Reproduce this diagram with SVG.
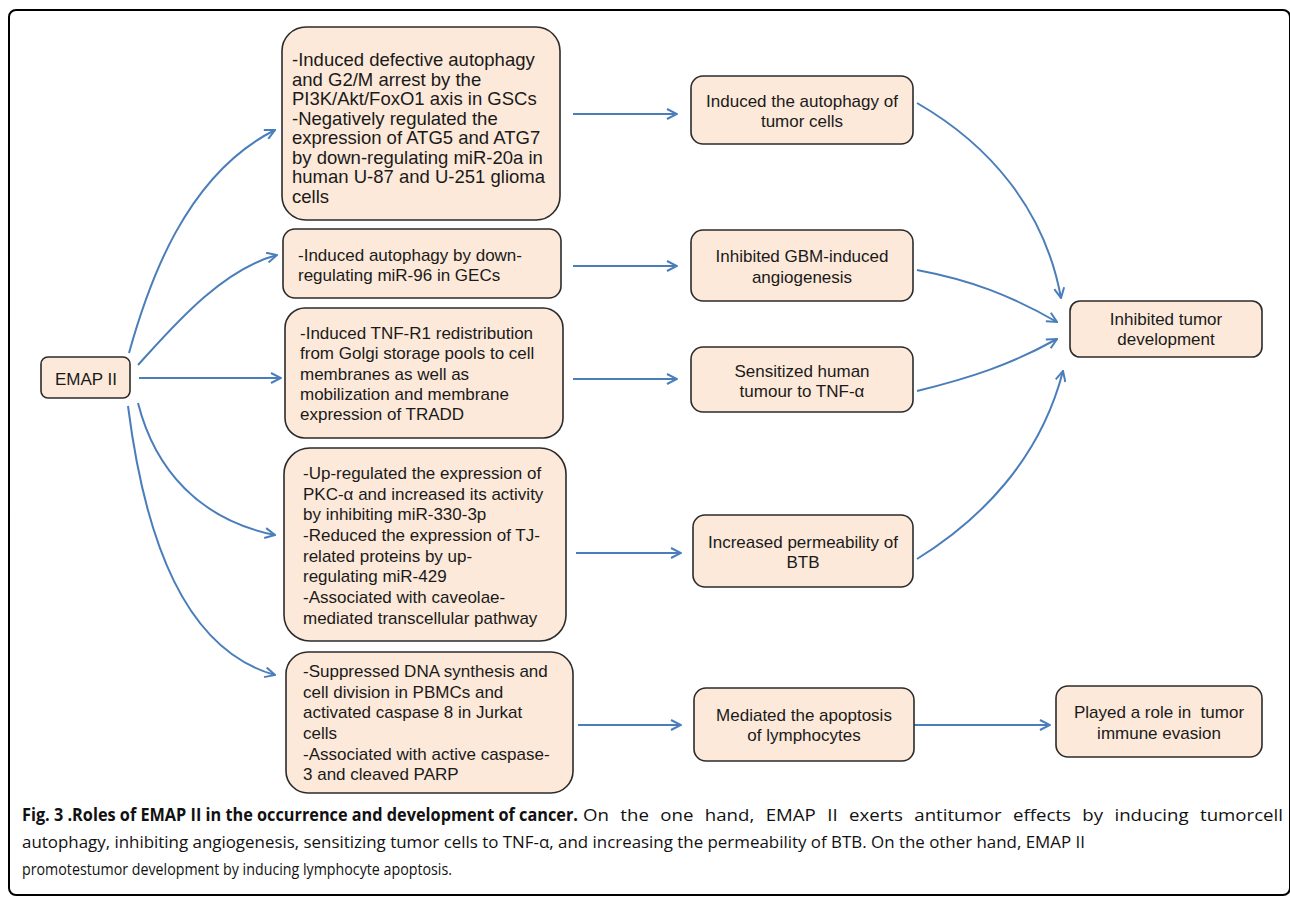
<svg xmlns="http://www.w3.org/2000/svg" width="1290" height="900" viewBox="0 0 1290 900">
<style>
.box{fill:#fde9d9;stroke:#2b2b2b;stroke-width:1.6}
.t{font-family:"Liberation Sans",Arial,sans-serif;font-size:17px;fill:#1a1a1a}
.ta{font-size:18.5px}
.c{text-anchor:middle}
.conn path{fill:none;stroke:#4a7ebb;stroke-width:2;marker-end:url(#ah)}
.cap{font-family:"Open Sans","Noto Sans",sans-serif;font-size:17px;fill:#111}
.b{font-weight:bold}
</style>
<defs>
<marker id="ah" viewBox="0 0 12 12" refX="11" refY="6" markerWidth="12" markerHeight="12" markerUnits="userSpaceOnUse" orient="auto">
<path d="M1,1 L11,6 L1,11" fill="none" stroke="#4a7ebb" stroke-width="2"/>
</marker>
</defs>
<rect x="9" y="10" width="1281" height="885" rx="7" fill="#fff" stroke="#000" stroke-width="2"/>

<g class="conn" id="connectors">
<path d="M129,353 C148,285 185,175 275,130"/>
<path d="M138,365 C170,330 220,270 277,255"/>
<path d="M139,378 L281,378"/>
<path d="M138,403 C155,470 200,520 275,535"/>
<path d="M128,406 C145,540 185,650 275,675"/>
<path d="M573,114 L677,114"/>
<path d="M573,266 L677,266"/>
<path d="M573,379 L677,379"/>
<path d="M576,553 L681,553"/>
<path d="M578,725 L681,725"/>
<path d="M914,725 L1050,725"/>
<path d="M917,103 C990,145 1045,210 1061,298"/>
<path d="M917,270 C970,280 1010,295 1057,322"/>
<path d="M917,391 C970,378 1010,365 1057,339"/>
<path d="M917,559 C980,520 1040,460 1063,371"/>
</g>

<g id="emap">
<rect class="box" x="41" y="357" width="89" height="41" rx="7"/>
<text class="t c" x="86" y="385">EMAP II</text>
</g>

<g id="boxA">
<rect class="box" x="282" y="27" width="278" height="193" rx="24"/>
<text class="t ta">
<tspan x="292" y="66">-Induced defective autophagy</tspan>
<tspan x="292" y="86">and G2/M arrest by the</tspan>
<tspan x="292" y="105">PI3K/Akt/FoxO1 axis in GSCs</tspan>
<tspan x="292" y="125">-Negatively regulated the</tspan>
<tspan x="292" y="144">expression of ATG5 and ATG7</tspan>
<tspan x="292" y="164">by down-regulating miR-20a in</tspan>
<tspan x="292" y="183">human U-87 and U-251 glioma</tspan>
<tspan x="292" y="203">cells</tspan>
</text>
</g>

<g id="boxB">
<rect class="box" x="283" y="229" width="278" height="69" rx="12"/>
<text class="t">
<tspan x="298" y="261">-Induced autophagy by down-</tspan>
<tspan x="298" y="281">regulating miR-96 in GECs</tspan>
</text>
</g>

<g id="boxC">
<rect class="box" x="285" y="308" width="278" height="130" rx="20"/>
<text class="t">
<tspan x="300" y="339">-Induced TNF-R1 redistribution</tspan>
<tspan x="300" y="359">from Golgi storage pools to cell</tspan>
<tspan x="300" y="380">membranes as well as</tspan>
<tspan x="300" y="400">mobilization and membrane</tspan>
<tspan x="300" y="420">expression of TRADD</tspan>
</text>
</g>

<g id="boxD">
<rect class="box" x="284" y="448" width="282" height="193" rx="26"/>
<text class="t">
<tspan x="303" y="479">-Up-regulated the expression of</tspan>
<tspan x="303" y="500">PKC-α and increased its activity</tspan>
<tspan x="303" y="520">by inhibiting miR-330-3p</tspan>
<tspan x="303" y="541">-Reduced the expression of TJ-</tspan>
<tspan x="303" y="562">related proteins by up-</tspan>
<tspan x="303" y="582">regulating miR-429</tspan>
<tspan x="303" y="603">-Associated with caveolae-</tspan>
<tspan x="303" y="624">mediated transcellular pathway</tspan>
</text>
</g>

<g id="boxE">
<rect class="box" x="286" y="652" width="287" height="141" rx="22"/>
<text class="t">
<tspan x="303" y="677">-Suppressed DNA synthesis and</tspan>
<tspan x="303" y="698">cell division in PBMCs and</tspan>
<tspan x="303" y="718">activated caspase 8 in Jurkat</tspan>
<tspan x="303" y="739">cells</tspan>
<tspan x="303" y="760">-Associated with active caspase-</tspan>
<tspan x="303" y="780">3 and cleaved PARP</tspan>
</text>
</g>

<g id="autophagy">
<rect class="box" x="691" y="76" width="222" height="68" rx="12"/>
<text class="t c"><tspan x="802" y="107">Induced the autophagy of</tspan><tspan x="802" y="127">tumor cells</tspan></text>
</g>

<g id="angiogenesis">
<rect class="box" x="691" y="230" width="222" height="71" rx="12"/>
<text class="t c"><tspan x="802" y="262">Inhibited GBM-induced</tspan><tspan x="802" y="283">angiogenesis</tspan></text>
</g>

<g id="tnf">
<rect class="box" x="691" y="347" width="222" height="65" rx="12"/>
<text class="t c"><tspan x="802" y="377">Sensitized human</tspan><tspan x="802" y="397">tumour to TNF-α</tspan></text>
</g>

<g id="btb">
<rect class="box" x="693" y="515" width="220" height="72" rx="12"/>
<text class="t c"><tspan x="803" y="548">Increased permeability of</tspan><tspan x="803" y="568">BTB</tspan></text>
</g>

<g id="apoptosis">
<rect class="box" x="694" y="688" width="220" height="73" rx="12"/>
<text class="t c"><tspan x="804" y="721">Mediated the apoptosis</tspan><tspan x="804" y="741">of lymphocytes</tspan></text>
</g>

<g id="inhibited">
<rect class="box" x="1070" y="301" width="192" height="56" rx="10"/>
<text class="t c"><tspan x="1166" y="325">Inhibited tumor</tspan><tspan x="1166" y="345">development</tspan></text>
</g>

<g id="evasion">
<rect class="box" x="1056" y="686" width="206" height="71" rx="12"/>
<text class="t c" xml:space="preserve"><tspan x="1159" y="718">Played a role in  tumor</tspan><tspan x="1159" y="739">immune evasion</tspan></text>
</g>

<g id="caption">
<text class="cap b" x="22" y="821" textLength="556" lengthAdjust="spacingAndGlyphs">Fig. 3 .Roles of EMAP II in the occurrence and development of cancer.</text>
<text class="cap" x="583" y="821" word-spacing="6" textLength="700" lengthAdjust="spacingAndGlyphs">On the one hand, EMAP II exerts antitumor effects by inducing tumorcell</text>
<text class="cap" x="22" y="848" textLength="1063" lengthAdjust="spacingAndGlyphs">autophagy, inhibiting angiogenesis, sensitizing tumor cells to TNF-α, and increasing the permeability of BTB. On the other hand, EMAP II</text>
<text class="cap" x="22" y="875" textLength="430" lengthAdjust="spacingAndGlyphs">promotestumor development by inducing lymphocyte apoptosis.</text>
</g>
</svg>
